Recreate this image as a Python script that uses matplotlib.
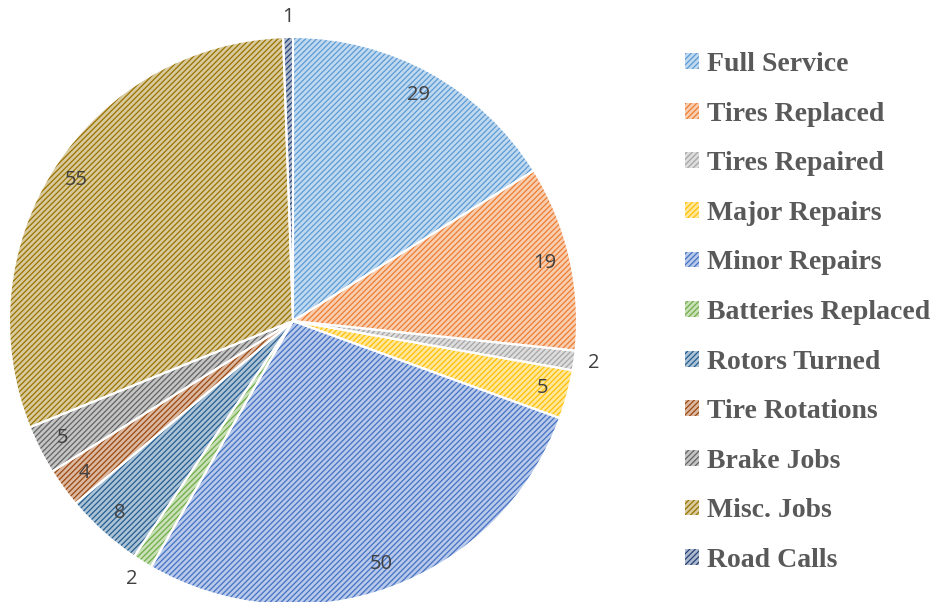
import matplotlib
matplotlib.use("Agg")
import matplotlib.pyplot as plt
import matplotlib.colors as mcolors
import numpy as np

categories = ["Full Service", "Tires Replaced", "Tires Repaired", "Major Repairs",
              "Minor Repairs", "Batteries Replaced", "Rotors Turned", "Tire Rotations",
              "Brake Jobs", "Misc. Jobs", "Road Calls"]
values = [29, 19, 2, 5, 50, 2, 8, 4, 5, 55, 1]
base_colors = ["#5B9BD5", "#ED7D31", "#A5A5A5", "#FFC000", "#4472C4", "#70AD47",
               "#255E91", "#9E480E", "#636363", "#997300", "#264478"]

def tint(c, f):
    r = np.array(mcolors.to_rgb(c))
    return tuple(r + (1 - r) * f)

face_colors = [tint(c, 0.62) for c in base_colors]

plt.rcParams['hatch.linewidth'] = 0.9

W, H = 943, 602
fig = plt.figure(figsize=(W / 100, H / 100), dpi=100)
R = 284
cx, cy = 293, 602 - 321
ax = fig.add_axes([(cx - R) / W, (cy - R) / H, 2 * R / W, 2 * R / H])

wedges, _ = ax.pie(values, colors=face_colors, startangle=90, counterclock=False,
                   radius=1, wedgeprops=dict(linewidth=0))
for w, c in zip(wedges, base_colors):
    w.set_hatch("//////")
    w.set_edgecolor(c)
    w.set_linewidth(0)

# white separators
ax.pie(values, colors=["none"] * len(values), startangle=90, counterclock=False,
       radius=1, wedgeprops=dict(linewidth=1.5, edgecolor="white", fill=False))

ax.set_xlim(-1, 1)
ax.set_ylim(-1, 1)
ax.axis("off")

# data labels
total = sum(values)
cum = 0
for v in values:
    mid = 90 - (cum + v / 2) / total * 360
    cum += v
    d = 0.91 if v >= 4 else 1.07
    ang = np.deg2rad(mid)
    ax.text(d * np.cos(ang), d * np.sin(ang), str(v), ha="center", va="center",
            fontsize=14.5, color="#404040", family="Open Sans", clip_on=False)

leg = fig.legend(wedges, categories, loc="upper left",
                 bbox_to_anchor=(674 / W, 1 - 41 / H), frameon=False,
                 prop=dict(family="Liberation Serif", weight="bold", size=20),
                 labelcolor="#595959", handlelength=0.5, handleheight=0.5,
                 handletextpad=0.3, labelspacing=0.885, borderaxespad=0)

fig.savefig("out.png", dpi=100)
